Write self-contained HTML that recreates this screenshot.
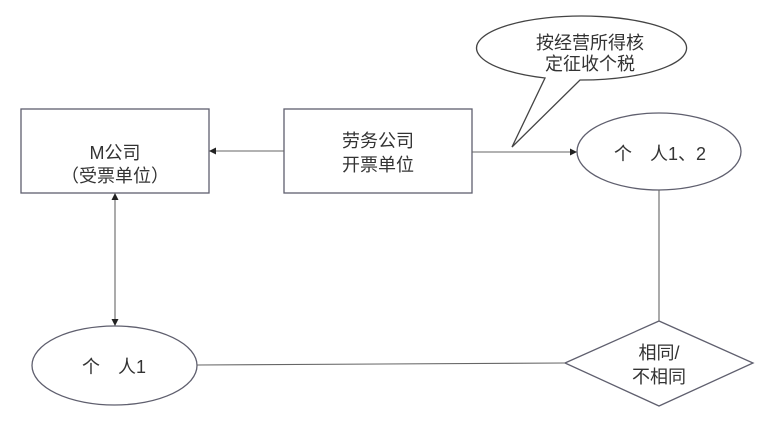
<!DOCTYPE html>
<html><head><meta charset="utf-8"><style>
html,body{margin:0;padding:0;background:#fff;}
svg{display:block;}
text{font-family:"Liberation Sans","Noto Sans CJK SC",sans-serif;fill:#333;font-size:18px;text-anchor:middle;}
</style></head><body>
<svg width="768" height="423" viewBox="0 0 768 423" xmlns="http://www.w3.org/2000/svg">
<g stroke="#5f5f6e" stroke-width="1.3" fill="none">
<!-- M box -->
<rect x="21" y="109" width="188" height="84" fill="#fff"/>
<!-- labor box -->
<rect x="284" y="109" width="188" height="84" fill="#fff"/>
<!-- ellipse 个人1、2 -->
<ellipse cx="659" cy="151.5" rx="82" ry="38.5" fill="#fff"/>
<!-- ellipse 个人1 -->
<ellipse cx="114.5" cy="365.5" rx="82.5" ry="39.5" fill="#fff"/>
<!-- diamond -->
<polygon points="565,363 659,321 753,363 659,406" fill="#fff"/>
<!-- speech bubble -->
<path d="M545,78 A105,32 0 1 1 580,80 L512,147 Z" fill="#fff" stroke="#444"/>
</g>
<g stroke="#666" stroke-width="1.1" fill="none">
<line x1="284" y1="151" x2="215" y2="151"/>
<line x1="472" y1="152" x2="571" y2="152"/>
<line x1="115" y1="199" x2="115" y2="320"/>
<line x1="197" y1="365" x2="565" y2="363"/>
<line x1="659" y1="190" x2="659" y2="321"/>
</g>
<g fill="#222">
<polygon points="209,151 216,147.5 216,154.5"/>
<polygon points="577,152 570,148.5 570,155.5"/>
<polygon points="115,193 111.5,200 118.5,200"/>
<polygon points="115,326 111.5,319 118.5,319"/>
</g>
<text x="115" y="159">M公司</text>
<text x="115" y="182">（受票单位）</text>
<text x="378" y="147">劳务公司</text>
<text x="378" y="171">开票单位</text>
<text x="590" y="49">按经营所得核</text>
<text x="590" y="70">定征收个税</text>
<text x="660" y="160">个　人1、2</text>
<text x="114" y="373">个　人1</text>
<text x="659" y="359">相同/</text>
<text x="659" y="383">不相同</text>
</svg>
</body></html>
